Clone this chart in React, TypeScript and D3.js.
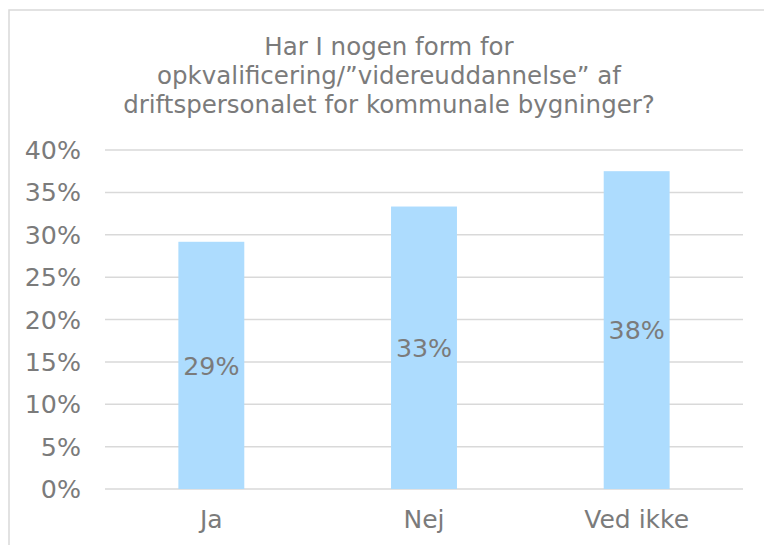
import React from 'react';
import * as d3 from 'd3';

const categories = ['Ja', 'Nej', 'Ved ikke'];
const shares = [0.2917, 0.3333, 0.375];
const yTicks = [0, 0.05, 0.1, 0.15, 0.2, 0.25, 0.3, 0.35, 0.4];
const titleLines = [
  'Har I nogen form for',
  'opkvalificering/\u201dvidereuddannelse\u201d af',
  'driftspersonalet for kommunale bygninger?',
];

const width = 764;
const height = 545;
const margin = { top: 150, right: 21, bottom: 56, left: 105 };
const textColor = '#7b7b7b';
const gridColor = '#d9d9d9';
const barColor = '#addcfe';
const font = '"DejaVu Sans", Verdana, sans-serif';

export default function App() {
  const x = d3.scaleBand()
    .domain(categories)
    .range([margin.left, width - margin.right])
    .padding(0);

  const y = d3.scaleLinear()
    .domain([0, 0.4])
    .range([height - margin.bottom, margin.top]);

  const barW = x.bandwidth() * 0.31;
  const fmt = d3.format('.0%');

  return (
    <svg width={width} height={height} style={{ position: 'absolute', left: 0, top: 0 }} fontFamily={font}>
      <rect x={0} y={0} width={width} height={height} fill="#fff" />
      {/* chart frame, cut by the image edge */}
      <rect x={9} y={10} width={width + 20} height={height + 20} fill="none" stroke={gridColor} strokeWidth={1.5} />

      {titleLines.map((t, i) => (
        <text key={i} x={389} y={55 + i * 29} textAnchor="middle" fontSize={24.5} fill={textColor}>{t}</text>
      ))}

      {yTicks.map(t => (
        <g key={t}>
          <line x1={margin.left} x2={width - margin.right} y1={y(t)} y2={y(t)} stroke={gridColor} strokeWidth={1.5} />
          <text x={81} y={y(t)} dy="0.36em" textAnchor="end" fontSize={25.3} fill={textColor}>{fmt(t)}</text>
        </g>
      ))}

      {categories.map((c, i) => {
        const cx = (x(c) as number) + x.bandwidth() / 2;
        const top = y(shares[i]);
        const base = y(0);
        return (
          <g key={c}>
            <rect x={cx - barW / 2} y={top} width={barW} height={base - top} fill={barColor} />
            <text x={cx} y={(top + base) / 2} dy="0.36em" textAnchor="middle" fontSize={25.3} fill={textColor}>{fmt(shares[i])}</text>
            <text x={cx} y={528} textAnchor="middle" fontSize={25} fill={textColor}>{c}</text>
          </g>
        );
      })}
    </svg>
  );
}
